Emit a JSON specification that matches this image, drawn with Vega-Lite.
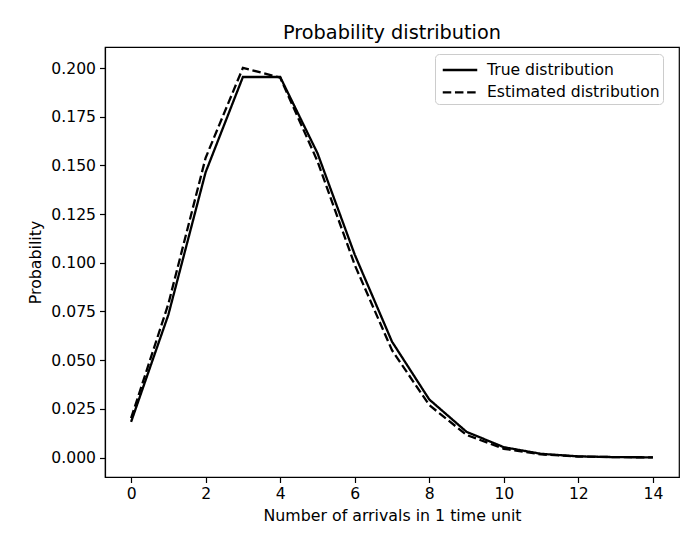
{
  "$schema": "https://vega.github.io/schema/vega-lite/v6.json",
  "autosize": {"type": "none"},
  "width": 574,
  "height": 430,
  "padding": {"left": 105, "top": 47, "right": 7, "bottom": 58},
  "background": "white",
  "title": {"text": "Probability distribution", "fontSize": 19.3, "font": "DejaVu Sans", "fontWeight": "normal", "color": "black", "offset": 4, "anchor": "middle"},
  "data": {"values": [
    {"k": 0, "p": 0.0183, "series": "True distribution"},
    {"k": 1, "p": 0.0733, "series": "True distribution"},
    {"k": 2, "p": 0.1465, "series": "True distribution"},
    {"k": 3, "p": 0.1954, "series": "True distribution"},
    {"k": 4, "p": 0.1954, "series": "True distribution"},
    {"k": 5, "p": 0.1563, "series": "True distribution"},
    {"k": 6, "p": 0.1042, "series": "True distribution"},
    {"k": 7, "p": 0.0595, "series": "True distribution"},
    {"k": 8, "p": 0.0298, "series": "True distribution"},
    {"k": 9, "p": 0.0132, "series": "True distribution"},
    {"k": 10, "p": 0.0053, "series": "True distribution"},
    {"k": 11, "p": 0.0019, "series": "True distribution"},
    {"k": 12, "p": 0.0006, "series": "True distribution"},
    {"k": 13, "p": 0.0002, "series": "True distribution"},
    {"k": 14, "p": 0.0001, "series": "True distribution"},
    {"k": 0, "p": 0.0202, "series": "Estimated distribution"},
    {"k": 1, "p": 0.0789, "series": "Estimated distribution"},
    {"k": 2, "p": 0.1539, "series": "Estimated distribution"},
    {"k": 3, "p": 0.2001, "series": "Estimated distribution"},
    {"k": 4, "p": 0.1951, "series": "Estimated distribution"},
    {"k": 5, "p": 0.1522, "series": "Estimated distribution"},
    {"k": 6, "p": 0.0989, "series": "Estimated distribution"},
    {"k": 7, "p": 0.0551, "series": "Estimated distribution"},
    {"k": 8, "p": 0.0269, "series": "Estimated distribution"},
    {"k": 9, "p": 0.0116, "series": "Estimated distribution"},
    {"k": 10, "p": 0.0045, "series": "Estimated distribution"},
    {"k": 11, "p": 0.0016, "series": "Estimated distribution"},
    {"k": 12, "p": 0.0005, "series": "Estimated distribution"},
    {"k": 13, "p": 0.0002, "series": "Estimated distribution"},
    {"k": 14, "p": 0.00004, "series": "Estimated distribution"}
  ]},
  "mark": {"type": "line", "color": "black", "strokeWidth": 2.3, "clip": true},
  "encoding": {
    "x": {"field": "k", "type": "quantitative", "scale": {"domain": [-0.7, 14.7], "nice": false, "zero": false},
      "axis": {"title": "Number of arrivals in 1 time unit", "values": [0, 2, 4, 6, 8, 10, 12, 14], "format": "d", "grid": false}},
    "y": {"field": "p", "type": "quantitative", "scale": {"domain": [-0.01, 0.2108], "nice": false, "zero": false},
      "axis": {"title": "Probability", "values": [0, 0.025, 0.05, 0.075, 0.1, 0.125, 0.15, 0.175, 0.2], "format": ".3f", "grid": false}},
    "strokeDash": {"field": "series", "type": "nominal",
      "scale": {"domain": ["True distribution", "Estimated distribution"], "range": [[1, 0], [8.5, 3.7]]},
      "legend": {"title": null, "orient": "none", "legendX": 330, "legendY": 7, "symbolType": "M-1.5,0L1.5,0", "symbolSize": 529, "symbolStrokeWidth": 2.3, "symbolStrokeColor": "black", "symbolFillColor": "transparent", "symbolOffset": 9,
        "labelFontSize": 15.6, "labelFont": "DejaVu Sans", "labelColor": "black", "labelLimit": 400, "fillColor": "white", "strokeColor": "#cccccc", "cornerRadius": 4, "padding": 3, "rowPadding": 0.4, "labelOffset": 14}}
  },
  "config": {
    "view": {"stroke": "black", "strokeWidth": 1.2},
    "axis": {"labelFont": "DejaVu Sans", "titleFont": "DejaVu Sans", "labelFontSize": 15.6, "titleFontSize": 15.8, "titleFontWeight": "normal",
      "labelColor": "black", "titleColor": "black", "domainColor": "black", "tickColor": "black", "tickSize": 5.5, "tickWidth": 1.2, "domainWidth": 1.2, "labelPadding": 4},
    "axisX": {"titlePadding": 6},
    "axisY": {"titlePadding": 7}
  }
}
